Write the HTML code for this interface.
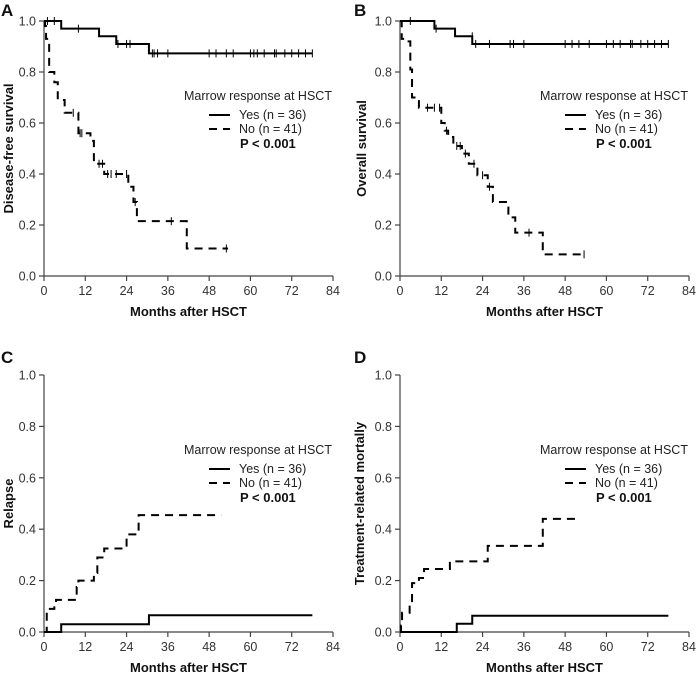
<!DOCTYPE html>
<html><head><meta charset="utf-8"><style>
body{margin:0;background:#fff}
svg{display:block;font-family:"Liberation Sans",Arial,sans-serif}
</style></head><body>
<svg id="c" width="700" height="679" viewBox="0 0 700 679"></svg>
<script>
// ---- data ----
const xTicks=[0,12,24,36,48,60,72,84];
const yTicks=[0,0.2,0.4,0.6,0.8,1.0];
const yTickLabels=["0.0","0.2","0.4","0.6","0.8","1.0"];
// Panel A: disease-free survival
const aYesT=[0,5,16,21,30.5], aYesV=[1,0.97,0.94,0.91,0.873], aYesEnd=78;
const aYesCens=[[1,1],[3,1],[10,0.97],[21.5,0.91],[24,0.91],[25,0.91],[31.5,0.873],[32,0.873],[33,0.873],[36,0.873],[48,0.873],[50,0.873],[53,0.873],[55,0.873],[60,0.873],[61,0.873],[62,0.873],[64,0.873],[67,0.873],[67.5,0.873],[70,0.873],[72,0.873],[74,0.873],[76,0.873],[78,0.873]];
const aNoT=[0,0.3,0.6,1.5,3,4,6,10,13.5,14.5,17.5,24.5,26,27,41.5], aNoV=[1,0.98,0.93,0.8,0.76,0.69,0.64,0.56,0.53,0.44,0.4,0.35,0.29,0.215,0.108], aNoEnd=53.5;
const aNoCens=[[8.5,0.64],[10.5,0.56],[11,0.56],[16,0.44],[17,0.44],[18.5,0.4],[19.5,0.4],[21,0.4],[24,0.4],[26.5,0.29],[37,0.215],[53,0.108]];
// Panel B: overall survival
const bYesT=[0,10,16,21], bYesV=[1,0.97,0.94,0.91], bYesEnd=78;
const bYesCens=[[3,1],[10.5,0.97],[21,0.94],[22,0.91],[26,0.91],[32,0.91],[33,0.91],[36,0.91],[48,0.91],[50,0.91],[52,0.91],[55,0.91],[60,0.91],[62,0.91],[64,0.91],[67,0.91],[67.5,0.91],[70,0.91],[72,0.91],[74,0.91],[76,0.91],[78,0.91]];
const bNoT=[0,0.5,2,3,3.5,5.5,12,13,14,15.5,18,20,22.5,25.5,27,31.5,33.5,41.5], bNoV=[1,0.93,0.92,0.81,0.7,0.66,0.6,0.57,0.545,0.51,0.48,0.44,0.395,0.35,0.29,0.23,0.17,0.085], bNoEnd=53.5;
const bNoCens=[[8,0.66],[10,0.66],[11.5,0.66],[13.5,0.57],[16.5,0.51],[17.5,0.51],[19,0.48],[21.5,0.44],[24,0.395],[26,0.35],[37.5,0.17],[53.5,0.085]];
// Panel C: relapse
const cYesT=[0,5,30.5], cYesV=[0,0.03,0.065], cYesEnd=78;
const cNoT=[0,0.8,3,3.5,9.5,10,14.5,15.5,17.5,24,27.5], cNoV=[0,0.09,0.1,0.125,0.175,0.2,0.23,0.29,0.325,0.38,0.455], cNoEnd=51.5;
// Panel D: treatment-related mortality
const dYesT=[0,16.5,21], dYesV=[0,0.032,0.063], dYesEnd=78;
const dNoT=[0,0.3,0.6,2.8,3.5,5.5,7,14.5,25.5,41.5], dNoV=[0,0.025,0.075,0.12,0.19,0.21,0.245,0.275,0.335,0.44], dNoEnd=52.5;

const NS="http://www.w3.org/2000/svg";
const svg=document.getElementById('c');
function el(tag,attrs,parent,txt){const e=document.createElementNS(NS,tag);for(const k in attrs)e.setAttribute(k,attrs[k]);if(txt!==undefined)e.textContent=txt;(parent||svg).appendChild(e);return e;}

function panel(p){
  const g=el('g',{});
  
  
  const X=v=>p.x0+(p.x1-p.x0)*v/84, Y=v=>p.y0+(p.y1-p.y0)*v;
  const lt=el('text',{x:p.lx,y:p.ly,'font-size':17,'font-weight':'bold',fill:'#111'},g,p.id);
  
  const ax=el('g',{stroke:'#444','stroke-width':1.2,fill:'none'},g);
  
  el('line',{x1:X(0),y1:Y(0),x2:X(0),y2:Y(1)},ax);
  el('line',{x1:X(0),y1:Y(0),x2:X(84),y2:Y(0)},ax);
  xTicks.forEach(t=>{el('line',{x1:X(t),y1:Y(0),x2:X(t),y2:Y(0)+5},ax);
    const tx=el('text',{x:X(t),y:Y(0)+19,'font-size':12.5,'text-anchor':'middle',fill:'#333',stroke:'none'},g,String(t));
    });
  yTicks.forEach((t,i)=>{el('line',{x1:X(0),y1:Y(t),x2:X(0)-5,y2:Y(t)},ax);
    const ty=el('text',{x:X(0)-8,y:Y(t)+4.5,'font-size':12.5,'text-anchor':'end',fill:'#333',stroke:'none'},g,yTickLabels[i]);
    });
  const xt=el('text',{x:(X(0)+X(84))/2,y:p.xty,'font-size':13,'font-weight':'bold','text-anchor':'middle',fill:'#111'},g,'Months after HSCT');
  
  const yt=el('text',{x:0,y:0,'font-size':13,'font-weight':'bold','text-anchor':'middle',fill:'#111',transform:`translate(${p.ytx},${(Y(0)+Y(1))/2}) rotate(-90)`},g,p.ytitle);
  
  function curve(T,V,end,dash,name){
    let d=`M${X(T[0])},${Y(V[0])}`;
    for(let i=1;i<T.length;i++){d+=` H${X(T[i])} V${Y(V[i])}`;}
    d+=` H${X(end)}`;
    const path=el('path',{d,fill:'none',stroke:'#000','stroke-width':2,'stroke-dasharray':dash||'none'},g);
    
  }
  function cens(C,name){C.forEach(c=>{const m=el('path',{d:`M${X(c[0])},${Y(c[1])-4}V${Y(c[1])+4}`,stroke:'#000','stroke-width':1},g);
    });}
  curve(p.yesT,p.yesV,p.yesEnd,null,'yes-curve');
  curve(p.noT,p.noV,p.noEnd,'8,6','no-curve');
  if(p.yesC)cens(p.yesC,'yes-censor-mark');
  if(p.noC)cens(p.noC,'no-censor-mark');
  const lg=el('g',{},g);
  
  el('text',{x:p.legx,y:p.legy,'font-size':12.5,fill:'#222'},lg,'Marrow response at HSCT');
  el('line',{x1:p.legx+25,y1:p.legy+15,x2:p.legx+46,y2:p.legy+15,stroke:'#000','stroke-width':2},lg);
  el('text',{x:p.legx+55,y:p.legy+19,'font-size':12.5,fill:'#222'},lg,'Yes (n = 36)');
  el('line',{x1:p.legx+25,y1:p.legy+29,x2:p.legx+46,y2:p.legy+29,stroke:'#000','stroke-width':2,'stroke-dasharray':'8,6'},lg);
  el('text',{x:p.legx+55,y:p.legy+33,'font-size':12.5,fill:'#222'},lg,'No (n = 41)');
  el('text',{x:p.legx+56,y:p.legy+48,'font-size':13,'font-weight':'bold',fill:'#111'},lg,'P < 0.001');
}
panel({id:'A',x0:44,x1:333,y0:276,y1:21,lx:1,ly:16,xty:316,ytx:13,ytitle:'Disease-free survival',legx:184,legy:100,
  yesT:aYesT,yesV:aYesV,yesEnd:aYesEnd,yesC:aYesCens,noT:aNoT,noV:aNoV,noEnd:aNoEnd,noC:aNoCens});
panel({id:'B',x0:400,x1:689,y0:276,y1:21,lx:354,ly:16,xty:316,ytx:366,ytitle:'Overall survival',legx:540,legy:100,
  yesT:bYesT,yesV:bYesV,yesEnd:bYesEnd,yesC:bYesCens,noT:bNoT,noV:bNoV,noEnd:bNoEnd,noC:bNoCens});
panel({id:'C',x0:44,x1:333,y0:632,y1:375,lx:1,ly:363,xty:672,ytx:13,ytitle:'Relapse',legx:184,legy:454,
  yesT:cYesT,yesV:cYesV,yesEnd:cYesEnd,noT:cNoT,noV:cNoV,noEnd:cNoEnd});
panel({id:'D',x0:400,x1:689,y0:632,y1:375,lx:354,ly:363,xty:672,ytx:364,ytitle:'Treatment-related mortally',legx:540,legy:454,
  yesT:dYesT,yesV:dYesV,yesEnd:dYesEnd,noT:dNoT,noV:dNoV,noEnd:dNoEnd});
</script>
</body></html>
